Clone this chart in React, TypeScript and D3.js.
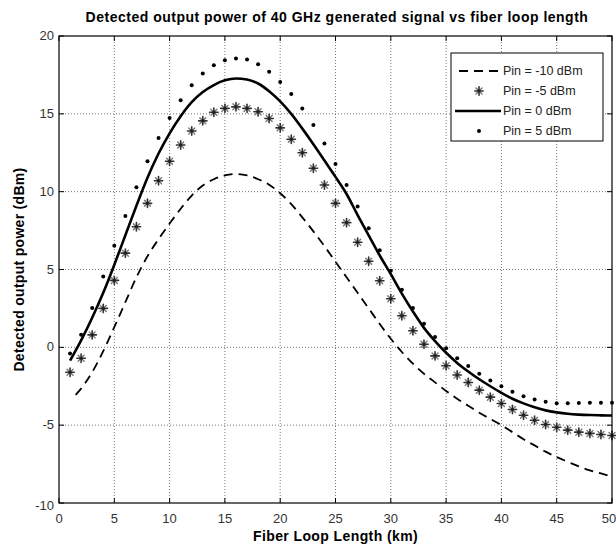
import React, { useRef, useEffect } from "react"
import * as d3 from "d3"

// fiber loop length (km), one sample per km
const lengthKm = [1, 2, 3, 4, 5, 6, 7, 8, 9, 10, 11, 12, 13, 14, 15, 16, 17, 18, 19, 20, 21, 22, 23, 24, 25,
    26, 27, 28, 29, 30, 31, 32, 33, 34, 35, 36, 37, 38, 39, 40, 41, 42, 43, 44, 45, 46, 47, 48, 49, 50]
const lengthKmM10 = [1.5, 2, 3, 4, 5, 6, 7, 8, 9, 10, 11, 12, 13, 14, 15, 16, 17, 18, 19, 20, 21, 22, 23, 24, 25,
    26, 27, 28, 29, 30, 31, 32, 33, 34, 35, 36, 37, 38, 39, 40, 41, 42, 43, 44, 45, 46, 47, 48, 49, 50]

const pinM10 = [-3.05, -2.65, -1.6, -0.25, 1.3, 2.9, 4.5, 5.85, 6.95, 7.95, 8.9, 9.75, 10.4, 10.8, 11.05, 11.13,
    11.05, 10.8, 10.45, 9.9, 9.2, 8.35, 7.45, 6.5, 5.5, 4.5, 3.5, 2.5, 1.5, 0.55, -0.3, -1.05, -1.7, -2.25, -2.8,
    -3.3, -3.75, -4.2, -4.6, -5.0, -5.45, -5.9, -6.3, -6.7, -7.05, -7.35, -7.65, -7.9, -8.1, -8.3]
const pinM5 = [-1.6, -0.7, 0.8, 2.5, 4.3, 6.05, 7.75, 9.25, 10.7, 11.95, 13.0, 13.9, 14.55, 15.1, 15.35, 15.45,
    15.35, 15.13, 14.7, 14.1, 13.37, 12.5, 11.5, 10.43, 9.25, 8.01, 6.75, 5.53, 4.28, 3.12, 2.03, 1.07, 0.2, -0.55,
    -1.18, -1.78, -2.26, -2.75, -3.2, -3.61, -3.99, -4.36, -4.68, -4.96, -5.13, -5.32, -5.45, -5.53, -5.6, -5.66]
const pin0 = [-0.85, 0.45, 1.9, 3.5, 5.3, 7.2, 9.1, 10.9, 12.45, 13.75, 14.85, 15.75, 16.4, 16.85, 17.15, 17.27,
    17.2, 16.95, 16.45, 15.8, 15.0, 14.05, 13.05, 12.0, 10.95, 9.85, 8.5, 7.2, 5.9, 4.7, 3.45, 2.3, 1.25, 0.4, -0.35,
    -1.0, -1.55, -2.05, -2.5, -2.92, -3.3, -3.6, -3.85, -4.05, -4.18, -4.27, -4.32, -4.35, -4.37, -4.38]
const pin5 = [-0.4, 0.81, 2.52, 4.55, 6.52, 8.44, 10.28, 11.95, 13.44, 14.74, 15.88, 16.84, 17.59, 18.12, 18.44,
    18.55, 18.49, 18.19, 17.7, 17.05, 16.28, 15.35, 14.28, 13.1, 11.78, 10.43, 9.04, 7.65, 6.24, 4.92, 3.7, 2.52,
    1.52, 0.67, -0.06, -0.7, -1.2, -1.69, -2.13, -2.5, -2.86, -3.14, -3.35, -3.5, -3.6, -3.6, -3.57, -3.56, -3.56, -3.56]

const xTicks = [0, 5, 10, 15, 20, 25, 30, 35, 40, 45, 50]
const yTicks = [-10, -5, 0, 5, 10, 15, 20]
const legendLabels = ["Pin = -10 dBm", "Pin = -5 dBm", "Pin = 0 dBm", "Pin = 5 dBm"]

const title = "Detected output power of 40 GHz generated signal vs fiber loop length"
const xLabel = "Fiber Loop Length (km)"
const yLabel = "Detected output power (dBm)"

const FONT = "'Liberation Sans', Arial, Helvetica, sans-serif"

const Chart = () => {
    let element = useRef(null)

    useEffect(() => {
        const W = 616, H = 546
        const margin = { top: 36, right: 4, bottom: 43, left: 59 }
        const width = W - margin.left - margin.right,
            height = H - margin.top - margin.bottom

        const root = d3.select(element.current)
        root.selectAll("*").remove()

        const svg = root.append("svg")
            .attr("width", W)
            .attr("height", H)
            .style("position", "absolute")
            .style("left", 0)
            .style("top", 0)
            .style("background", "#fff")
            .style("font-family", FONT)

        const g = svg.append("g")
            .attr("transform", "translate(" + margin.left + "," + margin.top + ")")

        const x = d3.scaleLinear().domain([0, 50]).range([0, width])
        const y = d3.scaleLinear().domain([-10, 20]).range([height, 0])

        // dotted grid
        g.append("g").selectAll("line")
            .data(xTicks.slice(1, -1))
            .enter().append("line")
            .attr("x1", d => x(d)).attr("x2", d => x(d))
            .attr("y1", 0).attr("y2", height)
            .attr("stroke", "#777").attr("stroke-width", 1)
            .attr("stroke-dasharray", "1,2")
        g.append("g").selectAll("line")
            .data(yTicks.slice(1, -1))
            .enter().append("line")
            .attr("y1", d => y(d)).attr("y2", d => y(d))
            .attr("x1", 0).attr("x2", width)
            .attr("stroke", "#777").attr("stroke-width", 1)
            .attr("stroke-dasharray", "1,2")

        // inward ticks on all four sides
        const tk = 5
        const ticks = g.append("g").attr("stroke", "#000").attr("stroke-width", 1)
        xTicks.forEach(t => {
            ticks.append("line").attr("x1", x(t)).attr("x2", x(t)).attr("y1", height).attr("y2", height - tk)
            ticks.append("line").attr("x1", x(t)).attr("x2", x(t)).attr("y1", 0).attr("y2", tk)
        })
        yTicks.forEach(t => {
            ticks.append("line").attr("y1", y(t)).attr("y2", y(t)).attr("x1", 0).attr("x2", tk)
            ticks.append("line").attr("y1", y(t)).attr("y2", y(t)).attr("x1", width).attr("x2", width - tk)
        })

        // tick labels
        g.append("g").selectAll("text")
            .data(xTicks)
            .enter().append("text")
            .attr("x", d => x(d) - (d === 50 ? 3 : 0))
            .attr("y", height + 20)
            .attr("text-anchor", "middle")
            .attr("font-size", 13)
            .attr("fill", "#333")
            .text(d => d)
        g.append("g").selectAll("text")
            .data(yTicks)
            .enter().append("text")
            .attr("x", -5)
            .attr("y", d => y(d) + 4 + (d === -10 ? 3 : 0))
            .attr("text-anchor", "end")
            .attr("font-size", 13)
            .attr("fill", "#333")
            .text(d => d)

        const line = d3.line<number>()
            .curve(d3.curveMonotoneX)

        // Pin = -10 dBm, dashed
        g.append("path")
            .attr("d", line.x((d, i) => x(lengthKmM10[i])).y(d => y(d))(pinM10))
            .attr("fill", "none")
            .attr("stroke", "#000")
            .attr("stroke-width", 1.8)
            .attr("stroke-dasharray", "9,6")

        // Pin = 0 dBm, solid
        g.append("path")
            .attr("d", line.x((d, i) => x(lengthKm[i])).y(d => y(d))(pin0))
            .attr("fill", "none")
            .attr("stroke", "#000")
            .attr("stroke-width", 2.6)

        const star = (sel, cx, cy) => {
            const r = 4.2, s = 3
            const p = sel.append("g").attr("transform", "translate(" + cx + "," + cy + ")")
                .attr("stroke", "#333").attr("stroke-width", 1.6).attr("stroke-linecap", "round")
            p.append("line").attr("x1", -r).attr("x2", r).attr("y1", 0).attr("y2", 0)
            p.append("line").attr("x1", 0).attr("x2", 0).attr("y1", -r).attr("y2", r)
            p.append("line").attr("x1", -s).attr("x2", s).attr("y1", -s).attr("y2", s).attr("stroke", "#777").attr("stroke-width", 1.4)
            p.append("line").attr("x1", -s).attr("x2", s).attr("y1", s).attr("y2", -s).attr("stroke", "#777").attr("stroke-width", 1.4)
            p.append("circle").attr("r", 1.8).attr("fill", "#222").attr("stroke", "none")
        }

        // Pin = -5 dBm, stars
        const stars = g.append("g")
        pinM5.forEach((v, i) => star(stars, x(lengthKm[i]), y(v)))

        // Pin = 5 dBm, dots
        g.append("g").selectAll("circle")
            .data(pin5)
            .enter().append("circle")
            .attr("cx", (d, i) => x(lengthKm[i]))
            .attr("cy", d => y(d))
            .attr("r", 2)
            .attr("fill", "#000")

        // frame
        g.append("rect")
            .attr("x", 0).attr("y", 0)
            .attr("width", width).attr("height", height)
            .attr("fill", "none")
            .attr("stroke", "#000")
            .attr("stroke-width", 1.2)

        // legend
        const lx = 451 - margin.left, ly = 53 - margin.top
        const leg = g.append("g").attr("transform", "translate(" + lx + "," + ly + ")")
        leg.append("rect")
            .attr("width", 152).attr("height", 88)
            .attr("fill", "#fff").attr("stroke", "#000").attr("stroke-width", 1)
        legendLabels.forEach((lab, i) => {
            const yy = 18 + i * 20
            if (i === 0) {
                leg.append("line").attr("x1", 8).attr("x2", 50).attr("y1", yy).attr("y2", yy)
                    .attr("stroke", "#000").attr("stroke-width", 1.8).attr("stroke-dasharray", "9,6")
            } else if (i === 1) {
                star(leg, 28, yy)
            } else if (i === 2) {
                leg.append("line").attr("x1", 4).attr("x2", 50).attr("y1", yy).attr("y2", yy)
                    .attr("stroke", "#000").attr("stroke-width", 2.6)
            } else {
                leg.append("circle").attr("cx", 28).attr("cy", yy).attr("r", 2).attr("fill", "#000")
            }
            leg.append("text")
                .attr("x", 52).attr("y", yy + 4)
                .attr("font-size", 12.5)
                .attr("fill", "#222")
                .text(lab)
        })

        // titles
        svg.append("text")
            .attr("x", 337).attr("y", 22)
            .attr("text-anchor", "middle")
            .attr("font-size", 14)
            .attr("font-weight", "bold")
            .attr("letter-spacing", 0.5)
            .text(title)
        svg.append("text")
            .attr("x", margin.left + width / 2).attr("y", 541)
            .attr("text-anchor", "middle")
            .attr("font-size", 14)
            .attr("font-weight", "bold")
            .attr("letter-spacing", 0.4)
            .text(xLabel)
        svg.append("text")
            .attr("transform", "translate(24," + (margin.top + height / 2) + ") rotate(-90)")
            .attr("text-anchor", "middle")
            .attr("font-size", 14)
            .attr("font-weight", "bold")
            .attr("letter-spacing", 0.3)
            .text(yLabel)

        return () => {
            root.selectAll("*").remove()
        }
    }, [])

    return <div ref={element} style={{ width: 616, height: 546 }}></div>
}

export default function App() {
    return <Chart />
}
